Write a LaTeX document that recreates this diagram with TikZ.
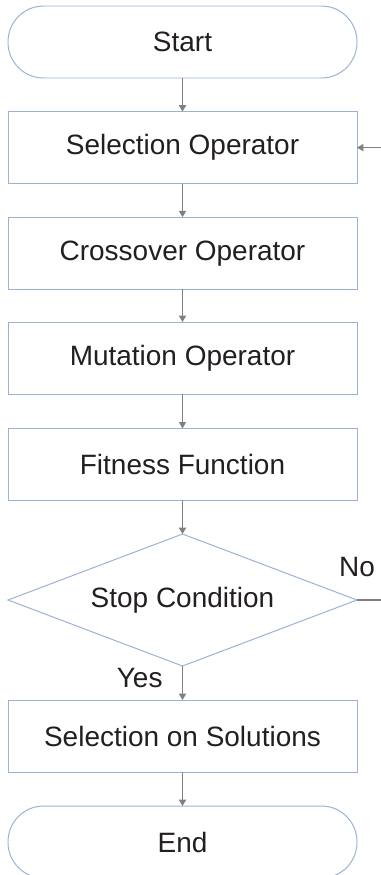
\documentclass[tikz,border=0pt]{standalone}
\usepackage{fontspec}
\setmainfont{Liberation Sans}
\usepackage{tikz}
\usetikzlibrary{positioning}
\usetikzlibrary{shapes.geometric}
\usetikzlibrary{arrows.meta}
\definecolor{GAFrame}{RGB}{155,178,214}
\definecolor{GAArrow}{RGB}{128,128,128}
\definecolor{GAInk}{RGB}{35,31,32}

\begin{document}
\begin{tikzpicture}[
x=1cm,
y=1cm,
every node/.style={font=\fontsize{19.9}{24}\selectfont,text=GAInk,outer sep=0pt},
stepbox/.style={draw=GAFrame,fill=white,line width=0.7pt,minimum width=8.725cm,minimum height=1.8cm,inner sep=0pt,align=center},
terminal/.style={stepbox,rounded corners=0.89cm},
decision/.style={diamond,aspect=2.64,draw=GAFrame,fill=white,line width=0.7pt,minimum width=8.725cm,minimum height=3.3cm,inner sep=0pt,align=center},
flowLabel/.style={inner sep=0pt},
gaflow/.style={-{Triangle[length=1.6mm,width=1.8mm]},line width=0.9pt,draw=GAArrow}
]

\clip (0,0) rectangle (9.525,-21.875);

\node[terminal] (start) at (4.5625,-1.05) {Start};
\node[stepbox] (sel) at (4.5625,-3.69) {Selection Operator};
\node[stepbox] (cross) at (4.5625,-6.33) {Crossover Operator};
\node[stepbox] (mut) at (4.5625,-8.95) {Mutation Operator};
\node[stepbox] (fit) at (4.5625,-11.61) {Fitness Function};
\node[decision] (stop) at (4.5625,-15.00) {Stop Condition};
\node[stepbox] (sol) at (4.5625,-18.40) {Selection on Solutions};
\node[terminal] (end) at (4.5625,-21.05) {End};

\node[flowLabel,anchor=base] (no) at ([yshift=0.6cm]stop.east) {No};
\node[flowLabel,anchor=base east] (yes) at ([xshift=-0.5cm,yshift=-0.53cm]stop.south) {Yes};

\draw[gaflow] (start) -- (sel);
\draw[gaflow] (sel) -- (cross);
\draw[gaflow] (cross) -- (mut);
\draw[gaflow] (mut) -- (fit);
\draw[gaflow] (fit) -- (stop);
\draw[gaflow] (stop) -- (sol);
\draw[gaflow] (sol) -- (end);

% loop back when the condition fails
\draw[gaflow] (stop.east) -- ++(1.5,0) |- (sel.east);

\end{tikzpicture}
\end{document}
